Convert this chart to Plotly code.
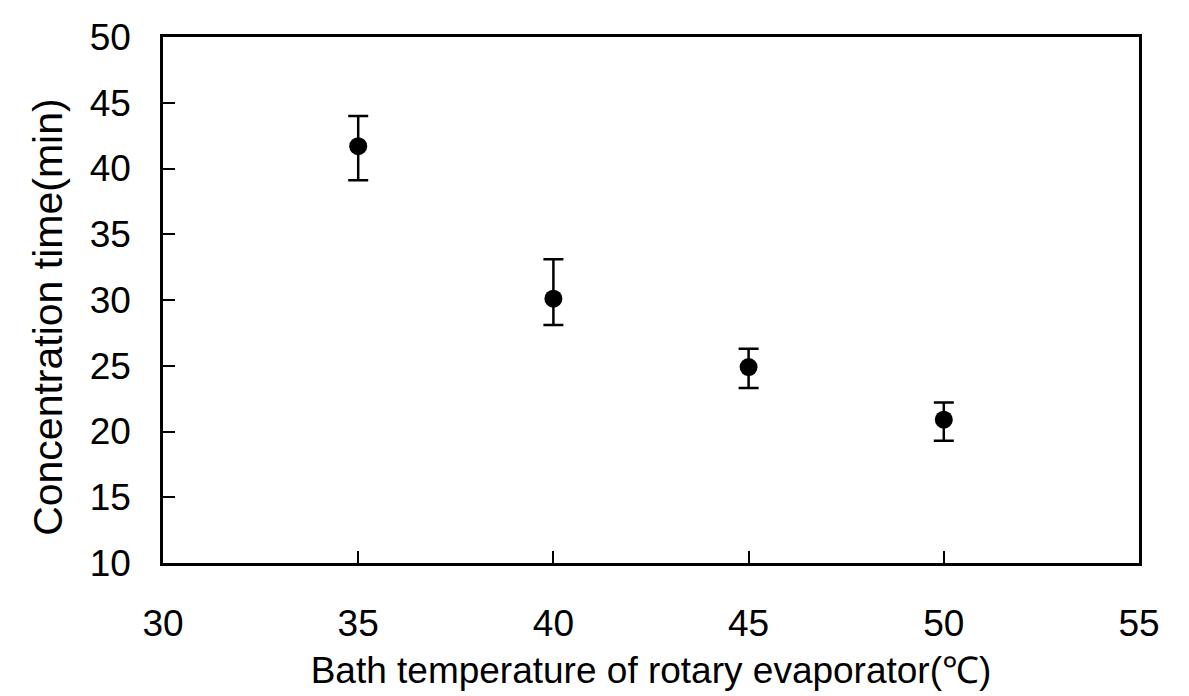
import plotly.graph_objects as go

temperature = [35, 40, 45, 50]
conc_time = [41.7, 30.1, 24.9, 20.9]
err_upper = [44.0, 33.1, 26.3, 22.2]
err_lower = [39.1, 28.1, 23.3, 19.3]

x_ticks = [30, 35, 40, 45, 50, 55]
y_ticks = [10, 15, 20, 25, 30, 35, 40, 45, 50]

plus = [u - v for u, v in zip(err_upper, conc_time)]
minus = [v - l for v, l in zip(conc_time, err_lower)]

FONT = "Liberation Sans, Arial, sans-serif"

fig = go.Figure()
fig.add_trace(go.Scatter(
    x=temperature, y=conc_time, mode="markers",
    marker=dict(symbol="circle", size=18, color="black"),
    error_y=dict(type="data", symmetric=False, array=plus, arrayminus=minus,
                 color="black", thickness=2.5, width=10),
    showlegend=False,
))

fig.update_layout(
    width=1189, height=696,
    margin=dict(l=163, r=50, t=37, b=129),
    paper_bgcolor="white", plot_bgcolor="white",
    font=dict(family=FONT, size=37, color="black"),
    xaxis=dict(
        range=[30, 55], tickvals=x_ticks, ticktext=[str(t) for t in x_ticks],
        ticks="inside", ticklen=12, tickwidth=1.5, tickcolor="black",
        showline=True, linecolor="black", linewidth=2.5, mirror=True,
        showgrid=False, zeroline=False,
        ticklabelstandoff=26,
        title=dict(text="Bath temperature of rotary evaporator(℃)", standoff=14,
                   font=dict(size=37)),
    ),
    yaxis=dict(
        range=[10, 50], tickvals=y_ticks, ticktext=[str(t) for t in y_ticks],
        ticks="inside", ticklen=12, tickwidth=1.5, tickcolor="black",
        showline=True, linecolor="black", linewidth=2.5, mirror=True,
        showgrid=False, zeroline=False,
        ticklabelstandoff=22,
    ),
    annotations=[dict(
        text="Concentration time(min)", textangle=-90,
        xref="paper", yref="paper", x=-0.1178, y=0.468,
        xanchor="center", yanchor="middle", showarrow=False,
        font=dict(family=FONT, size=41, color="black"),
    )],
)

fig.write_html("out.html")
